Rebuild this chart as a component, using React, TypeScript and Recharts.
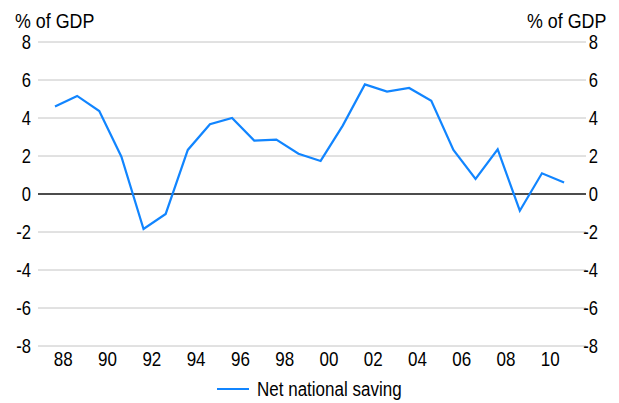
import { LineChart, Line, XAxis, YAxis, CartesianGrid, ReferenceLine, Legend } from 'recharts';

const years = [
  1988, 1989, 1990, 1991, 1992, 1993, 1994, 1995, 1996, 1997, 1998, 1999,
  2000, 2001, 2002, 2003, 2004, 2005, 2006, 2007, 2008, 2009, 2010, 2011,
];
const netSaving = [
  4.6, 5.16, 4.37, 1.96, -1.84, -1.05, 2.32, 3.67, 4.0, 2.81, 2.86, 2.12,
  1.74, 3.6, 5.77, 5.39, 5.58, 4.91, 2.32, 0.79, 2.35, -0.88, 1.09, 0.61,
];
const xTicks = [1988, 1990, 1992, 1994, 1996, 1998, 2000, 2002, 2004, 2006, 2008, 2010].map((y) => y + 0.375);
const yTicks = [-8, -6, -4, -2, 0, 2, 4, 6, 8];

const data = years.map((year, i) => ({ year, value: netSaving[i] }));

const FONT = "'Liberation Sans', Arial, sans-serif";
const BLUE = '#1185ff';
const SX = 0.85; // text in the reference is horizontally condensed

const LeftTick = ({ x, y, payload }: any) => (
  <text transform={`translate(${x} ${y}) scale(${SX} 1)`} dy="0.355em" textAnchor="end" fontFamily={FONT} fontSize={19.5} fill="#000">
    {payload.value}
  </text>
);

const RightTick = ({ x, y, payload }: any) => (
  <text transform={`translate(${x + 12} ${y}) scale(${SX} 1)`} dy="0.355em" textAnchor="end" fontFamily={FONT} fontSize={19.5} fill="#000">
    {payload.value}
  </text>
);

const BottomTick = ({ x, y, payload }: any) => (
  <text transform={`translate(${x} ${y}) scale(${SX} 1)`} dy="0.72em" textAnchor="middle" fontFamily={FONT} fontSize={20} fill="#000">
    {String(Math.floor(payload.value) % 100).padStart(2, '0')}
  </text>
);

const LegendContent = () => (
  <div
    style={{
      height: 32,
      paddingTop: 4,
      boxSizing: 'border-box',
      display: 'flex',
      justifyContent: 'center',
      alignItems: 'center',
      fontFamily: FONT,
      fontSize: 20,
      color: '#000',
    }}
  >
    <span style={{ display: 'inline-block', width: 32, height: 2.5, background: BLUE, marginRight: 8 }} />
    <span style={{ display: 'inline-block', transform: `scaleX(${SX})`, transformOrigin: 'left center', marginRight: -26 }}>
      Net national saving
    </span>
  </div>
);

const titleStyle = {
  position: 'absolute' as const,
  top: 10,
  fontFamily: FONT,
  fontSize: 21,
  lineHeight: 1,
  whiteSpace: 'nowrap' as const,
};

export default function App() {
  return (
    <div style={{ position: 'absolute', left: 0, top: 0, width: 619, height: 403, background: '#fff' }}>
      <LineChart width={619} height={403} data={data} margin={{ top: 42, right: 0, bottom: 0, left: 0 }}>
        <CartesianGrid yAxisId="left" vertical={false} stroke="#c4c4c4" strokeWidth={1} />
        <XAxis
          dataKey="year"
          type="number"
          domain={[1987.232, 2011.99]}
          ticks={xTicks}
          height={25}
          axisLine={false}
          tickLine={false}
          tickSize={0}
          tickMargin={6}
          tick={<BottomTick />}
          interval={0}
        />
        <YAxis
          yAxisId="left"
          orientation="left"
          domain={[-8, 8]}
          ticks={yTicks}
          width={38}
          axisLine={false}
          tickLine={false}
          tickSize={0}
          tickMargin={7}
          tick={<LeftTick />}
          interval={0}
        />
        <YAxis
          yAxisId="right"
          orientation="right"
          domain={[-8, 8]}
          ticks={yTicks}
          width={33}
          axisLine={false}
          tickLine={false}
          tickSize={0}
          tickMargin={0}
          tick={<RightTick />}
          interval={0}
        />
        <ReferenceLine yAxisId="left" y={0} stroke="#1a1a1a" strokeWidth={1.5} />
        <Line
          yAxisId="right"
          type="linear"
          dataKey="value"
          stroke="none"
          dot={false}
          legendType="none"
          isAnimationActive={false}
        />
        <Line
          yAxisId="left"
          type="linear"
          dataKey="value"
          name="Net national saving"
          stroke={BLUE}
          strokeWidth={2.2}
          dot={false}
          isAnimationActive={false}
        />
        <Legend verticalAlign="bottom" height={32} content={<LegendContent />} />
      </LineChart>
      <div style={{ ...titleStyle, left: 15, transform: `scaleX(${SX})`, transformOrigin: 'left top' }}>% of GDP</div>
      <div style={{ ...titleStyle, right: 13, transform: `scaleX(${SX})`, transformOrigin: 'right top' }}>% of GDP</div>
    </div>
  );
}
